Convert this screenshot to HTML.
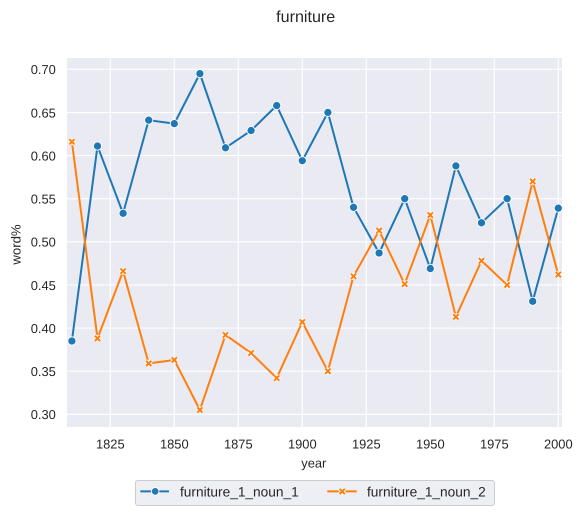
<!DOCTYPE html>
<html>
<head>
<meta charset="utf-8">
<style>
html,body{margin:0;padding:0;background:#fff;}
svg{display:block;}
text{font-family:"Liberation Sans",Arial,sans-serif;fill:#262626;text-rendering:geometricPrecision;}
</style>
</head>
<body>
<svg id="chart" xmlns="http://www.w3.org/2000/svg" width="583" height="515" viewBox="0 0 583 515"></svg>
<script>
const years = [1810,1820,1830,1840,1850,1860,1870,1880,1890,1900,1910,1920,1930,1940,1950,1960,1970,1980,1990,2000];
const noun1Values = [0.385,0.611,0.533,0.641,0.637,0.695,0.609,0.629,0.658,0.594,0.650,0.540,0.487,0.550,0.469,0.588,0.522,0.550,0.431,0.539];
const noun2Values = [0.616,0.388,0.466,0.359,0.363,0.305,0.392,0.371,0.342,0.407,0.350,0.460,0.513,0.451,0.531,0.413,0.478,0.450,0.570,0.462];
const xTicks = [1825,1850,1875,1900,1925,1950,1975,2000];
const yTicks = ["0.30","0.35","0.40","0.45","0.50","0.55","0.60","0.65","0.70"];
const seriesNames = ["furniture_1_noun_1","furniture_1_noun_2"];

const NS = "http://www.w3.org/2000/svg";
const svg = document.getElementById("chart");
const plot = {left:67, right:562, top:58, bottom:427};
const xScale = v => 110.3 + (v - 1825) * 2.56;
const yScale = v => 414.3 - (v - 0.30) * 862.5;
const BLUE = "#1f77b4", ORANGE = "#ff7f0e";

function make(tag, attrs, parent) {
  const el = document.createElementNS(NS, tag);
  for (const k in attrs) el.setAttribute(k, attrs[k]);
  (parent || svg).appendChild(el);
  return el;
}

function drawX(cx, cy, r, color, parent) {
  const d = `M${cx-r} ${cy-r}L${cx+r} ${cy+r}M${cx-r} ${cy+r}L${cx+r} ${cy-r}`;
  const halo = make("path", {d:d, stroke:"#fff", "stroke-width":4, fill:"none"}, parent);
  
  
  const mark = make("path", {d:d, stroke:color, "stroke-width":2, fill:"none"}, parent);
  
  
}

const bg = make("rect", {x:plot.left, y:plot.top, width:plot.right-plot.left, height:plot.bottom-plot.top, fill:"#eaeaf2"});



const title = make("text", {x:305.7, y:22, "font-size":16.1, "text-anchor":"middle"});
title.textContent = "furniture";



xTicks.forEach(t => {
  const x = xScale(t);
  const line = make("line", {x1:x, x2:x, y1:plot.top, y2:plot.bottom, stroke:"#fff", "stroke-width":1.1});
  
  
  const label = make("text", {x:x, y:448.3, "font-size":12.9, "text-anchor":"middle"});
  label.textContent = t;
  
  
});

yTicks.forEach(t => {
  const y = yScale(parseFloat(t));
  const line = make("line", {x1:plot.left, x2:plot.right, y1:y, y2:y, stroke:"#fff", "stroke-width":1.1});
  
  
  const label = make("text", {x:55.8, y:y+4.9, "font-size":12.9, "text-anchor":"end"});
  label.textContent = t;
  
  
});

const xTitle = make("text", {x:313.8, y:467.5, "font-size":12.9, "text-anchor":"middle"});
xTitle.textContent = "year";



const yTitle = make("text", {x:0, y:0, "font-size":13.2, "text-anchor":"middle", transform:"translate(20.5 244.5) rotate(-90)"});
yTitle.textContent = "word%";



const defs = make("defs", {});
const clip = make("clipPath", {id:"plot-clip"}, defs);
make("rect", {x:plot.left, y:plot.top, width:plot.right-plot.left, height:plot.bottom-plot.top}, clip);

const g1 = make("g", {"clip-path":"url(#plot-clip)"});


const line1 = make("polyline", {
  points: years.map((y,i) => xScale(y)+","+yScale(noun1Values[i])).join(" "),
  fill:"none", stroke:BLUE, "stroke-width":2, "stroke-linejoin":"round"
}, g1);


years.forEach((y,i) => {
  const c = make("circle", {cx:xScale(y), cy:yScale(noun1Values[i]), r:4.1, fill:BLUE, stroke:"#fff", "stroke-width":0.9}, g1);
  
  
});

const g2 = make("g", {"clip-path":"url(#plot-clip)"});


const line2 = make("polyline", {
  points: years.map((y,i) => xScale(y)+","+yScale(noun2Values[i])).join(" "),
  fill:"none", stroke:ORANGE, "stroke-width":2, "stroke-linejoin":"round"
}, g2);


years.forEach((y,i) => drawX(xScale(y), yScale(noun2Values[i]), 2.6, ORANGE, g2));

const legend = make("g", {});


const box = make("rect", {x:135.5, y:480.5, width:359, height:25, rx:2.5, fill:"#eaeaf2", "fill-opacity":0.8, stroke:"#cccccc", "stroke-width":1}, legend);



const key1 = make("line", {x1:140.3, x2:169, y1:491.4, y2:491.4, stroke:BLUE, "stroke-width":2}, legend);


const keyDot = make("circle", {cx:155.2, cy:491.4, r:3.8, fill:BLUE, stroke:"#fff", "stroke-width":0.9}, legend);


const label1 = make("text", {x:180, y:496.6, "font-size":13.7}, legend);
label1.textContent = seriesNames[0];



const key2 = make("line", {x1:327.3, x2:356.8, y1:491.4, y2:491.4, stroke:ORANGE, "stroke-width":2}, legend);


drawX(342.2, 491.4, 2.6, ORANGE, legend);
const label2 = make("text", {x:367, y:496.6, "font-size":13.7}, legend);
label2.textContent = seriesNames[1];


</script>
</body>
</html>
